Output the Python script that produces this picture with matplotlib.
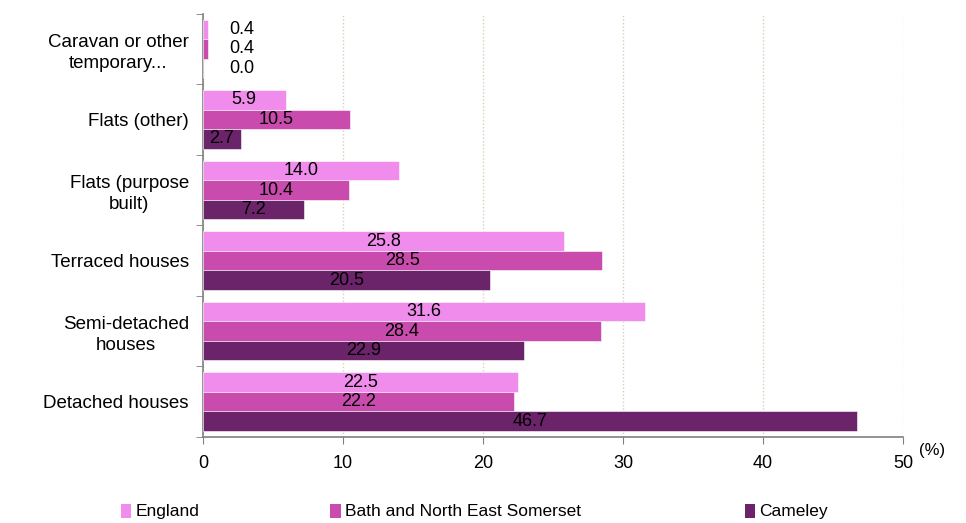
import numpy as np
import matplotlib
matplotlib.use("Agg")
import matplotlib.pyplot as plt
import matplotlib.patches as patches

plt.rcParams["font.family"] = ["Liberation Sans", "DejaVu Sans"]

# -----------------------------------------------------------------------------
# Data (bottom to top, as drawn)
# -----------------------------------------------------------------------------

categories = [
    "Detached houses",
    "Semi-detached\nhouses",
    "Terraced houses",
    "Flats (purpose\nbuilt)",
    "Flats (other)",
    "Caravan or other\ntemporary...",
]
series = ["England", "Bath and North East Somerset", "Cameley"]
england = [22.5, 31.6, 25.8, 14.0, 5.9, 0.4]
bnes = [22.2, 28.4, 28.5, 10.4, 10.5, 0.4]
cameley = [46.7, 22.9, 20.5, 7.2, 2.7, 0.0]
colors = ["#F08CEC", "#C94BAD", "#6B2369"]

# -----------------------------------------------------------------------------
# Figure
# -----------------------------------------------------------------------------

fig = plt.figure(figsize=(9.66, 5.23), dpi=100)
ax = fig.add_axes([0.210, 0.1645, 0.725, 0.8095])

y = np.arange(len(categories))
h = 0.277
offsets = [h, 0, -h]

for vals, off, color in zip([england, bnes, cameley], offsets, colors):
    bars = ax.barh(y + off, vals, height=h, color=color,
                   edgecolor="white", linewidth=0.4, zorder=3)
    for bar, v in zip(bars, vals):
        xc = v / 2 if v >= 1 else 2.8
        ax.text(xc, bar.get_y() + bar.get_height() / 2, "{:.1f}".format(v),
                ha="center", va="center", fontsize=13, color="black",
                zorder=4)

ax.set_xlim(0, 50)
ax.set_ylim(-0.5, len(categories) - 0.5)
ax.set_xticks([0, 10, 20, 30, 40, 50])
ax.tick_params(axis="x", labelsize=13, length=5, color="#808080",
               pad=8, direction="out")

ax.set_yticks(y)
ax.set_yticklabels(categories, fontsize=13.5, multialignment="center",
                   linespacing=1.3)
ax.tick_params(axis="y", length=0, pad=10)
ax.set_yticks(np.arange(-0.5, len(categories)), minor=True)
ax.tick_params(axis="y", which="minor", length=5, color="#808080")

ax.grid(axis="x", linestyle=(0, (1, 1.5)), color="#D8D0B8", linewidth=1,
        zorder=0)

for side in ["top", "right"]:
    ax.spines[side].set_visible(False)
for side in ["left", "bottom"]:
    ax.spines[side].set_color("#808080")
    ax.spines[side].set_linewidth(1.2)

fig.text(0.965, 0.138, "(%)", fontsize=12, ha="center", va="center")

# legend drawn by hand so the column spacing matches
legend_x = [0.125, 0.342, 0.771]
for lx, name, color in zip(legend_x, series, colors):
    fig.patches.append(patches.Rectangle((lx, 0.010), 0.011, 0.026,
                                         transform=fig.transFigure,
                                         facecolor=color, edgecolor="none"))
    fig.text(lx + 0.015, 0.022, name, fontsize=12.5, va="center", ha="left")

fig.savefig("out.png", dpi=100)
